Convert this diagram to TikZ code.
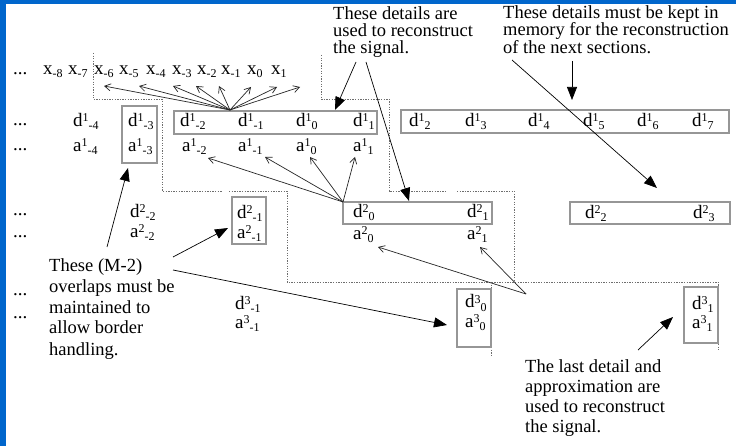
\documentclass[tikz,border=0pt]{standalone}
\usepackage{fontspec}
\setmainfont{Liberation Serif}
\usetikzlibrary{arrows.meta}
\definecolor{bluebd}{RGB}{0,102,204}
\definecolor{boxgray}{RGB}{150,150,150}
\definecolor{dotgray}{RGB}{110,110,110}
\newcommand\cfsup[1]{\raisebox{5pt}{\fontsize{12}{12}\selectfont #1}}
\newcommand\cfsub[1]{\raisebox{-3pt}{\fontsize{12}{12}\selectfont #1}}
\newcommand\cfl[3]{#1\cfsup{#2}\cfsub{#3}}
\begin{document}
\begin{tikzpicture}[x=1pt,y=-1pt,
 lbl/.style={anchor=base west,inner sep=0pt,font=\fontsize{19}{19}\selectfont},
 note/.style={anchor=base west,inner sep=0pt,align=left,font=\fontsize{18.5}{20}\selectfont},
 boxn/.style={draw=boxgray,line width=1.1pt,inner sep=0pt,outer sep=0pt},
 dotl/.style={draw=dotgray,line width=0.8pt,dash pattern=on 1.3pt off 1.3pt},
 thinarr/.style={draw=black!85,line width=0.7pt,-{Straight Barb[length=6pt,width=7pt]}},
 callarr/.style={draw=black,line width=0.7pt,-{Triangle[length=13pt,width=10pt]}}]
\useasboundingbox (0,0) rectangle (736,446);
\fill[bluebd] (0,0) rectangle (736,446);
\fill[white] (6,4) rectangle (736,446);

% dotted staircase lines
\draw[dotl] (93,53) -- (93,99) -- (162,99) -- (162,191) -- (222,191);
\draw[dotl] (229,191) -- (287,191) -- (287,282) -- (718,282) -- (718,350);
\draw[dotl] (321,55) -- (321,99) -- (389,99) -- (389,191) -- (447,191);
\draw[dotl] (457,191) -- (514,191) -- (514,282);
\draw[dotl] (491,282) -- (491,355);

% boxes
\node[boxn,minimum width=35pt,minimum height=57pt] (B1) at (139.5,134.5) {};
\node[boxn,minimum width=203pt,minimum height=23pt] (B2) at (275.5,122.5) {};
\node[boxn,minimum width=328pt,minimum height=23pt] (B3) at (565,121.5) {};
\node[boxn,minimum width=34pt,minimum height=47pt] (B4) at (249,220.5) {};
\node[boxn,minimum width=149pt,minimum height=22pt] (B5) at (417.5,213) {};
\node[boxn,minimum width=160pt,minimum height=22pt] (B6) at (650,213) {};
\node[boxn,minimum width=34pt,minimum height=58pt] (B7) at (474,318) {};
\node[boxn,minimum width=34pt,minimum height=56pt] (B8) at (701,315) {};

% row x
\node[lbl] (xd) at (13,75) {...};
\node[lbl] (xm8) at (43,75) {x\cfsub{-8}};
\node[lbl] (xm7) at (68,75) {x\cfsub{-7}};
\node[lbl] (xm6) at (94,75) {x\cfsub{-6}};
\node[lbl] (xm5) at (119,75) {x\cfsub{-5}};
\node[lbl] (xm4) at (146,75) {x\cfsub{-4}};
\node[lbl] (xm3) at (172,75) {x\cfsub{-3}};
\node[lbl] (xm2) at (197,75) {x\cfsub{-2}};
\node[lbl] (xm1) at (221,75) {x\cfsub{-1}};
\node[lbl] (x0) at (247,75) {x\cfsub{0}};
\node[lbl] (x1) at (271,75) {x\cfsub{1}};

% row d1
\node[lbl] (d1d) at (13,126) {...};
\node[lbl] (d1m4) at (73,127) {\cfl{d}{1}{-4}};
\node[lbl] (d1m3) at (128,127) {\cfl{d}{1}{-3}};
\node[lbl] (d1m2) at (180,127) {\cfl{d}{1}{-2}};
\node[lbl] (d1m1) at (238,127) {\cfl{d}{1}{-1}};
\node[lbl] (d10) at (296,127) {\cfl{d}{1}{0}};
\node[lbl] (d11) at (353,127) {\cfl{d}{1}{1}};
\node[lbl] (d12) at (409,127) {\cfl{d}{1}{2}};
\node[lbl] (d13) at (465,127) {\cfl{d}{1}{3}};
\node[lbl] (d14) at (528,127) {\cfl{d}{1}{4}};
\node[lbl] (d15) at (583,127) {\cfl{d}{1}{5}};
\node[lbl] (d16) at (637,127) {\cfl{d}{1}{6}};
\node[lbl] (d17) at (692,127) {\cfl{d}{1}{7}};

% row a1
\node[lbl] (a1d) at (13,151) {...};
\node[lbl] (a1m4) at (73,152) {\cfl{a}{1}{-4}};
\node[lbl] (a1m3) at (128,152) {\cfl{a}{1}{-3}};
\node[lbl] (a1m2) at (182,152) {\cfl{a}{1}{-2}};
\node[lbl] (a1m1) at (238,152) {\cfl{a}{1}{-1}};
\node[lbl] (a10) at (296,152) {\cfl{a}{1}{0}};
\node[lbl] (a11) at (353,152) {\cfl{a}{1}{1}};

% row d2 / a2
\node[lbl] (d2d) at (13,216) {...};
\node[lbl] (d2m2) at (130,218) {\cfl{d}{2}{-2}};
\node[lbl] (d2m1) at (237,219) {\cfl{d}{2}{-1}};
\node[lbl] (d20) at (353,218) {\cfl{d}{2}{0}};
\node[lbl] (d21) at (467,218) {\cfl{d}{2}{1}};
\node[lbl] (d22) at (585,219) {\cfl{d}{2}{2}};
\node[lbl] (d23) at (693,219) {\cfl{d}{2}{3}};
\node[lbl] (a2d) at (13,238) {...};
\node[lbl] (a2m2) at (130,238) {\cfl{a}{2}{-2}};
\node[lbl] (a2m1) at (237,239) {\cfl{a}{2}{-1}};
\node[lbl] (a20) at (353,240) {\cfl{a}{2}{0}};
\node[lbl] (a21) at (467,240) {\cfl{a}{2}{1}};

% row d3 / a3
\node[lbl] (d3d) at (13,296) {...};
\node[lbl] (a3d) at (13,318) {...};
\node[lbl] (d3m1) at (235,309) {\cfl{d}{3}{-1}};
\node[lbl] (a3m1) at (235,328) {\cfl{a}{3}{-1}};
\node[lbl] (d30) at (465,308) {\cfl{d}{3}{0}};
\node[lbl] (a30) at (465,327) {\cfl{a}{3}{0}};
\node[lbl] (d31) at (692,309) {\cfl{d}{3}{1}};
\node[lbl] (a31) at (692,328) {\cfl{a}{3}{1}};

% annotations (anchor = baseline of last line)
\node[note,font=\fontsize{18.5}{17}\selectfont] (n1) at (333,54) {These details are\\used to reconstruct\\the signal.};
\node[note,font=\fontsize{18.5}{17}\selectfont] (n2) at (503,54) {These details must be kept in\\memory for the reconstruction\\of the next sections.};
\node[note,font=\fontsize{18.5}{21}\selectfont] (n3) at (49,355) {These (M-2)\\overlaps must be\\maintained to\\allow border\\handling.};
\node[note] (n4) at (525,432) {The last detail and\\approximation are\\used to reconstruct\\the signal.};

% fan from d1 box to x samples
\coordinate (F1) at (230,110);
\foreach \t in {(104,86),(139,86),(173,86),(196,86),(219,86),(251,87),(277,87),(300,87)}
  \draw[thinarr] (F1) -- \t;
% fan from d2 box to a1
\foreach \t in {(208,158),(265,157),(310,157),(355,157)}
  \draw[thinarr] (B5.north west) -- \t;
% fan to a2
\coordinate (F3) at (526,294);
\draw[thinarr] (F3) -- (378,247);
\draw[thinarr] (F3) -- (480,247);

% callout arrows
\draw[callarr] (356,62) -- (335,110);
\draw[callarr] (366,62) -- (409,201);
\draw[callarr] (572,61) -- (572,100);
\draw[callarr] (512,60) -- (657,188);
\draw[callarr] (107,247) -- (128,168);
\draw[callarr] (173,257) -- (228,228);
\draw[callarr] (173,270) -- (447,325);
\draw[callarr] (638,350) -- (673,317);
\end{tikzpicture}
\end{document}
